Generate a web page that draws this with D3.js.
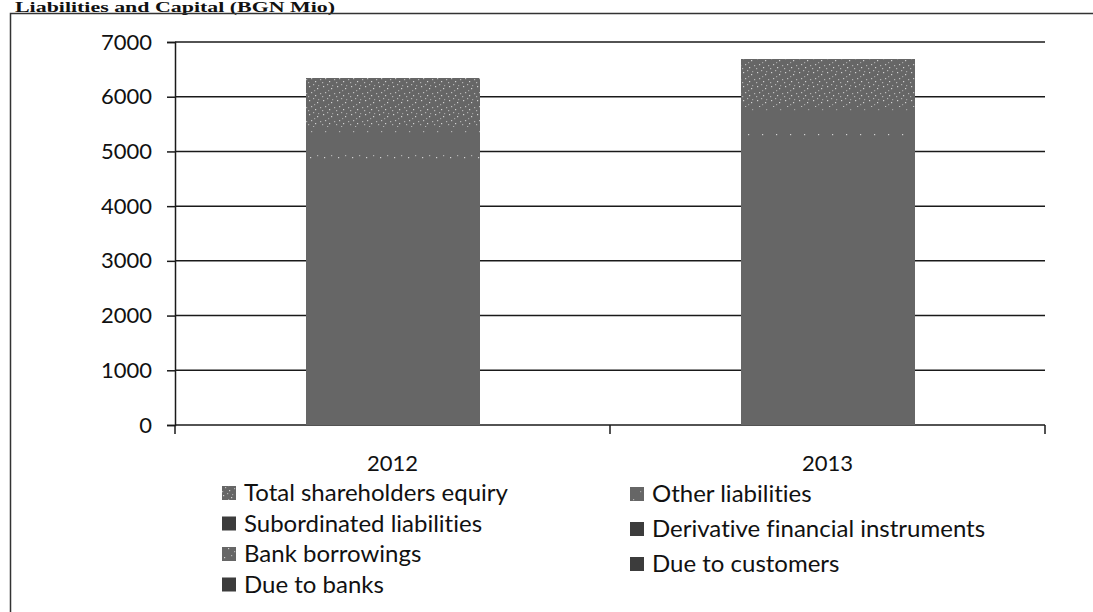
<!DOCTYPE html>
<html>
<head>
<meta charset="utf-8">
<script src="https://cdn.jsdelivr.net/npm/d3@7"></script>
<style>
  html, body { margin: 0; padding: 0; background: #fff; }
  svg { display: block; }
  text { font-variant-ligatures: none; font-feature-settings: "liga" 0; }
</style>
</head>
<body>
<svg id="chart" width="1093" height="612"></svg>
<script>
// Liabilities and capital by year, BGN million
const years = ["2012", "2013"];

// Series listed bottom-to-top of each stacked column
const seriesNames = [
  "Due to banks",
  "Due to customers",
  "Bank borrowings",
  "Derivative financial instruments",
  "Subordinated liabilities",
  "Other liabilities",
  "Total shareholders equiry"
];
const dueToBanks         = [250, 200];
const dueToCustomers     = [4620, 5080];
const bankBorrowings     = [60, 70];
const derivatives        = [30, 30];
const subordinated       = [320, 280];
const otherLiabilities   = [160, 150];
const shareholdersEquity = [900, 880];

const seriesValues = [dueToBanks, dueToCustomers, bankBorrowings, derivatives,
                      subordinated, otherLiabilities, shareholdersEquity];

// Legend reading order (two columns, row by row)
const legendOrder = [
  "Total shareholders equiry", "Other liabilities",
  "Subordinated liabilities", "Derivative financial instruments",
  "Bank borrowings", "Due to customers",
  "Due to banks"
];

const yTicks = [0, 1000, 2000, 3000, 4000, 5000, 6000, 7000];
const titleText = "Liabilities and Capital (BGN Mio)";

const svg = d3.select("#chart");
const fontSans = "Lato, 'Liberation Sans', sans-serif";
const barGrey = "#666666";

// Stipple fills used by some series
const defs = svg.append("defs");
function stipple(id, dots) {
  const p = defs.append("pattern").attr("id", id)
    .attr("patternUnits", "userSpaceOnUse").attr("width", 14).attr("height", 14);
  p.append("rect").attr("width", 14).attr("height", 14).attr("fill", barGrey);
  dots.forEach(([x, y, o]) => p.append("rect")
    .attr("x", x).attr("y", y).attr("width", 1.2).attr("height", 1.2)
    .attr("fill", "#fff").attr("opacity", o));
}
stipple("dense", [[1,2,0.7],[5,0,0.5],[9,4,0.7],[12,9,0.5],[3,8,0.6],[7,11,0.7],[10,1,0.4],[0,12,0.5],[6,6,0.4]]);
stipple("medium", [[2,3,0.7],[9,1,0.5],[6,8,0.7],[12,11,0.5]]);
stipple("sparse", [[3,5,0.5],[10,11,0.4]]);

const fillFor = {
  "Due to banks": barGrey,
  "Due to customers": barGrey,
  "Bank borrowings": "url(#medium)",
  "Derivative financial instruments": barGrey,
  "Subordinated liabilities": barGrey,
  "Other liabilities": "url(#sparse)",
  "Total shareholders equiry": "url(#dense)"
};

// Title, sitting on the top edge of the frame
svg.append("text")
  .attr("x", 15).attr("y", 12)
  .attr("font-family", "'Liberation Serif', 'Times New Roman', serif")
  .attr("font-weight", "bold").attr("font-size", 15)
  .attr("textLength", 320).attr("lengthAdjust", "spacingAndGlyphs")
  .attr("fill", "#111")
  .text(titleText);

// Frame around the chart
svg.append("path")
  .attr("d", "M10.5,612 L10.5,13.5 L1093,13.5")
  .attr("fill", "none").attr("stroke", "#333").attr("stroke-width", 1.5);

const plot = { left: 175, right: 1045, top: 42, bottom: 425 };

const x = d3.scaleBand().domain(years)
  .range([plot.left, plot.right]).paddingInner(0.6).paddingOuter(0.3);
const xOuter = d3.scaleBand().domain(years).range([plot.left, plot.right]);
const y = d3.scaleLinear().domain([0, 7000]).range([plot.bottom, plot.top]);

// Gridlines
svg.append("g").selectAll("line").data(yTicks).join("line")
  .attr("x1", plot.left).attr("x2", plot.right)
  .attr("y1", d => y(d)).attr("y2", d => y(d))
  .attr("stroke", "#1a1a1a").attr("stroke-width", 1.5);

// Stacked columns
const rows = years.map((yr, i) => {
  const r = { year: yr };
  seriesNames.forEach((s, k) => { r[s] = seriesValues[k][i]; });
  return r;
});
const stacked = d3.stack().keys(seriesNames)(rows);

svg.append("g").attr("shape-rendering", "crispEdges")
  .selectAll("g").data(stacked).join("g")
  .attr("fill", d => fillFor[d.key])
  .selectAll("rect").data(d => d).join("rect")
  .attr("x", d => Math.round(x(d.data.year)))
  .attr("width", Math.round(x.bandwidth()))
  .attr("y", d => Math.round(y(d[1])))
  .attr("height", d => Math.round(y(d[0])) - Math.round(y(d[1])));

// Value axis
const yAxis = svg.append("g")
  .attr("transform", `translate(${plot.left},0)`)
  .call(d3.axisLeft(y).tickValues(yTicks).tickSize(8).tickPadding(15).tickFormat(d3.format("d")));
yAxis.select(".domain").attr("stroke", "#1a1a1a").attr("stroke-width", 1.5);
yAxis.selectAll(".tick line").attr("stroke", "#1a1a1a").attr("stroke-width", 1.5);
yAxis.selectAll("text")
  .attr("font-family", fontSans).attr("font-size", 22).attr("fill", "#111");

// Category axis
const xAxis = svg.append("g")
  .attr("transform", `translate(0,${plot.bottom})`)
  .call(d3.axisBottom(xOuter).tickSize(0).tickPadding(30));
xAxis.select(".domain").remove();
xAxis.selectAll("text")
  .attr("font-family", fontSans).attr("font-size", 22).attr("fill", "#111");
// Tick marks at category boundaries
svg.append("g").selectAll("line")
  .data([plot.left, plot.left + xOuter.step(), plot.right]).join("line")
  .attr("x1", d => d).attr("x2", d => d)
  .attr("y1", plot.bottom).attr("y2", plot.bottom + 9)
  .attr("stroke", "#1a1a1a").attr("stroke-width", 1.5);

// Legend: two columns
const legendCols = [
  { x: 222, y0: 493, gap: 30.5 },
  { x: 630, y0: 494, gap: 35 }
];
const legend = svg.append("g");
legendOrder.forEach((name, i) => {
  const col = legendCols[i % 2];
  const row = Math.floor(i / 2);
  const cy = col.y0 + row * col.gap;
  const g = legend.append("g").attr("transform", `translate(${col.x},${cy})`);
  g.append("rect").attr("x", 0).attr("y", -7).attr("width", 14).attr("height", 14)
    .attr("fill", fillFor[name] === barGrey ? "#3c3c3c" : fillFor[name]);
  g.append("text").attr("x", 22).attr("y", 0).attr("dy", "0.35em")
    .attr("font-family", fontSans).attr("font-size", 24).attr("fill", "#111")
    .text(name);
});
</script>
</body>
</html>
